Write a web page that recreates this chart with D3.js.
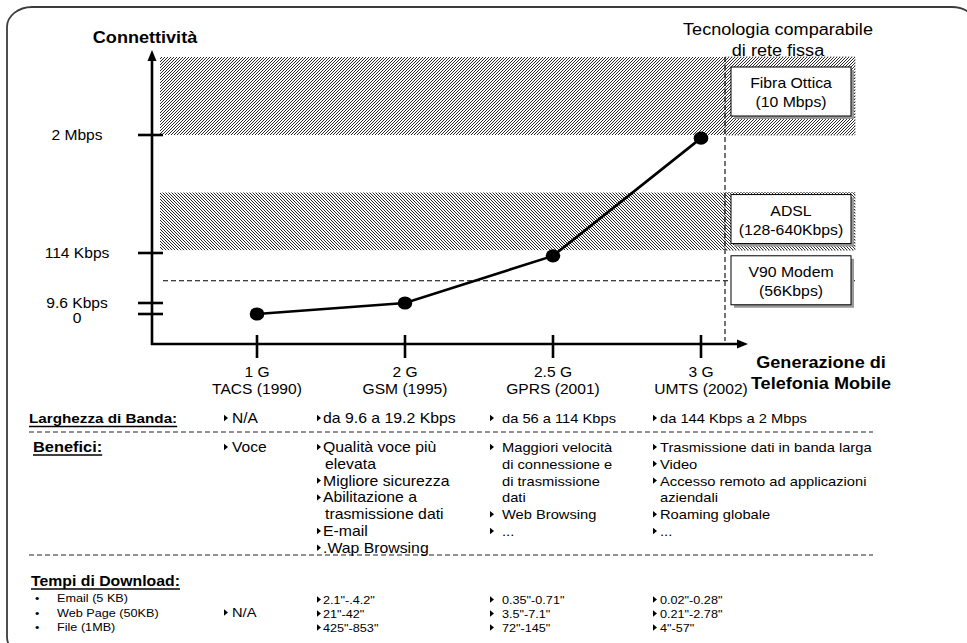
<!DOCTYPE html>
<html>
<head>
<meta charset="utf-8">
<script src="https://cdn.jsdelivr.net/npm/d3@7"></script>
<style>
  html, body { margin: 0; padding: 0; background: #fff; }
  svg { display: block; font-family: Arial, "Liberation Sans", sans-serif; }
</style>
</head>
<body>
<svg id="chart" width="967" height="643"></svg>
<script>
// ---------------- DATA ----------------
const generations = ["1 G", "2 G", "2.5 G", "3 G"];
const systems = ["TACS (1990)", "GSM (1995)", "GPRS (2001)", "UMTS (2002)"];
const speedKbps = [0, 9.6, 108, 1950];
const yTickValues = [0, 9.6, 114, 2000];
const yTickLabels = ["0", "9.6 Kbps", "114 Kbps", "2 Mbps"];
const fiberBand = [2000, 10000];                    // Kbps
const adslBand = [160, 1080];                       // Kbps (as drawn)
const modemKbps = 56;
const fixedNames = ["Fibra Ottica", "ADSL", "V90 Modem"];
const fixedDetails = ["(10 Mbps)", "(128-640Kbps)", "(56Kbps)"];
const rowTitles = ["Larghezza di Banda:", "Benefici:", "Tempi di Download:"];
const bandwidth = ["N/A", "da 9.6 a 19.2 Kbps", "da 56 a 114 Kbps", "da 144 Kbps a 2 Mbps"];
const benefits = [
  [["Voce"]],
  [["Qualità voce più", "elevata"], ["Migliore sicurezza"], ["Abilitazione a", "trasmissione dati"], ["E-mail"], [".Wap Browsing"]],
  [["Maggiori velocità", "di connessione e", "di trasmissione", "dati"], ["Web Browsing"], ["..."]],
  [["Trasmissione dati in banda larga"], ["Video"], ["Accesso remoto ad applicazioni", "aziendali"], ["Roaming globale"], ["..."]]
];
const downloadItems = ["Email (5 KB)", "Web Page (50KB)", "File (1MB)"];
const downloadTimes = [
  ["N/A"],
  ["2.1\"-.4.2\"", "21\"-42\"", "425\"-853\""],
  ["0.35\"-0.71\"", "3.5\"-7.1\"", "72\"-145\""],
  ["0.02\"-0.28\"", "0.21\"-2.78\"", "4\"-57\""]
];

// ---------------- LAYOUT ----------------
const SX = 1.13; // horizontal stretch of the original slide
const svg = d3.select("#chart");
const defs = svg.append("defs");

function txt(g, x, y, s, o = {}) {
  return g.append("text")
    .attr("transform", `translate(${x},${y}) scale(${SX},1)`)
    .attr("font-size", o.size || 14)
    .attr("font-weight", o.weight || "normal")
    .attr("text-anchor", o.anchor || "start")
    .attr("fill", o.fill || "#000")
    .text(s);
}
function underline(g, t, x, y) {
  const len = t.node().getComputedTextLength() * SX;
  g.append("line").attr("x1", x).attr("x2", x + len).attr("y1", y).attr("y2", y)
    .attr("stroke", "#000").attr("stroke-width", 1.4);
}
function bullet(g, x, cy) {
  g.append("path").attr("d", `M${x},${cy - 3.2}L${x + 4},${cy}L${x},${cy + 3.2}Z`).attr("fill", "#000");
}

// patterns (pixel-crisp diagonal hatching)
const pF = defs.append("pattern").attr("id", "hatchF").attr("patternUnits", "userSpaceOnUse")
  .attr("width", 3).attr("height", 3);
[[0, 2], [1, 1], [2, 0]].forEach(([px, py]) =>
  pF.append("rect").attr("x", px).attr("y", py).attr("width", 1).attr("height", 1).attr("fill", "#2a2a2a"));
const pB = defs.append("pattern").attr("id", "hatchB").attr("patternUnits", "userSpaceOnUse")
  .attr("width", 3).attr("height", 3);
[[0, 0], [1, 1], [2, 2]].forEach(([px, py]) =>
  pB.append("rect").attr("x", px).attr("y", py).attr("width", 1).attr("height", 1).attr("fill", "#2a2a2a"));

// frame
svg.append("rect").attr("x", 7).attr("y", 7).attr("width", 970).attr("height", 650)
  .attr("rx", 25).attr("ry", 20).attr("fill", "none").attr("stroke", "#3c3c3c").attr("stroke-width", 1.8);

// scales
const x = d3.scalePoint().domain(generations).range([257, 701]);
const y = d3.scaleLinear().domain([0, 9.6, 114, 2000, 10000]).range([314, 303, 253, 135, 57]);

const plotLeft = 160, bandRight = 855, splitX = 725;
const axisX = 152, axisY = 344;

const g = svg.append("g");

// bands
g.append("rect").attr("x", plotLeft).attr("y", y(fiberBand[1])).attr("width", bandRight - plotLeft)
  .attr("height", y(fiberBand[0]) - y(fiberBand[1])).attr("fill", "url(#hatchF)");
g.append("rect").attr("x", plotLeft).attr("y", y(adslBand[1])).attr("width", bandRight - plotLeft)
  .attr("height", y(adslBand[0]) - y(adslBand[1])).attr("fill", "url(#hatchB)");
// dotted outlines of right parts
[fiberBand, adslBand].forEach(b => {
  g.append("rect").attr("x", splitX).attr("y", y(b[1])).attr("width", bandRight - splitX)
    .attr("height", y(b[0]) - y(b[1])).attr("fill", "none").attr("stroke", "#555")
    .attr("stroke-width", 0.8).attr("stroke-dasharray", "1.5,1.5");
});

// dashed lines
g.append("line").attr("x1", 163).attr("x2", bandRight).attr("y1", y(modemKbps)).attr("y2", y(modemKbps))
  .attr("stroke", "#000").attr("stroke-width", 1.1).attr("stroke-dasharray", "5,3");
g.append("line").attr("x1", splitX).attr("x2", splitX).attr("y1", y(fiberBand[1])).attr("y2", axisY - 3)
  .attr("stroke", "#000").attr("stroke-width", 1.1).attr("stroke-dasharray", "5,3");

// boxes
const boxTop = [y(fiberBand[1]) + 10, y(adslBand[1]) + 2, y(modemKbps) - 25];
const boxW = 120, boxH = 49, boxX = 731;
fixedNames.forEach((n, i) => {
  g.append("rect").attr("x", boxX + 3).attr("y", boxTop[i] + 3).attr("width", boxW).attr("height", boxH).attr("fill", "#9a9a9a");
  g.append("rect").attr("x", boxX).attr("y", boxTop[i]).attr("width", boxW).attr("height", boxH)
    .attr("fill", "#fff").attr("stroke", "#000").attr("stroke-width", 1);
  txt(g, boxX + boxW / 2, boxTop[i] + 21, n, { size: 14, anchor: "middle" });
  txt(g, boxX + boxW / 2, boxTop[i] + 40, fixedDetails[i], { size: 14, anchor: "middle" });
});

// axes
g.append("line").attr("x1", axisX).attr("x2", axisX).attr("y1", axisY + 1).attr("y2", 58)
  .attr("stroke", "#000").attr("stroke-width", 2.6);
g.append("path").attr("d", `M${axisX},50L${axisX - 4.5},61L${axisX + 4.5},61Z`).attr("fill", "#000");
g.append("line").attr("x1", axisX - 1).attr("x2", 740).attr("y1", axisY).attr("y2", axisY)
  .attr("stroke", "#000").attr("stroke-width", 2.6);
g.append("path").attr("d", `M748,${axisY}L737,${axisY - 4.5}L737,${axisY + 4.5}Z`).attr("fill", "#000");

// y ticks
g.selectAll(".yt").data(yTickValues).join("line").attr("class", "yt")
  .attr("x1", 138).attr("x2", 163).attr("y1", d => y(d)).attr("y2", d => y(d))
  .attr("stroke", "#000").attr("stroke-width", 2.6);
yTickValues.forEach((v, i) => {
  txt(g, 77, y(v) + (v === 0 ? 9 : 5), yTickLabels[i], { size: 13.8, anchor: "middle" });
});

// x ticks
g.selectAll(".xt").data(generations).join("line").attr("class", "xt")
  .attr("x1", d => x(d)).attr("x2", d => x(d)).attr("y1", 335).attr("y2", 358)
  .attr("stroke", "#000").attr("stroke-width", 2.6);
generations.forEach((gname, i) => {
  txt(g, x(gname), 377, gname, { size: 13.8, anchor: "middle" });
  txt(g, x(gname), 394, systems[i], { size: 13.8, anchor: "middle" });
});

// line and dots
const line = d3.line().x((d, i) => x(generations[i])).y(d => y(d));
g.append("path").attr("d", line(speedKbps)).attr("fill", "none").attr("stroke", "#000").attr("stroke-width", 2.6);
g.selectAll(".dot").data(speedKbps).join("ellipse").attr("class", "dot")
  .attr("cx", (d, i) => x(generations[i])).attr("cy", d => y(d)).attr("rx", 7.3).attr("ry", 6.6).attr("fill", "#000");

// titles
txt(g, 145, 43, "Connettività", { size: 16, weight: "bold", anchor: "middle" });
txt(g, 821, 368, "Generazione di", { size: 16, weight: "bold", anchor: "middle" });
txt(g, 821, 389, "Telefonia Mobile", { size: 16, weight: "bold", anchor: "middle" });
txt(g, 778, 35, "Tecnologia comparabile", { size: 16, anchor: "middle" });
txt(g, 778, 56, "di rete fissa", { size: 16, anchor: "middle" });

// ---------------- TABLE ----------------
const t = svg.append("g");
const colBullet = [224, 317, 490, 653];
const colText = [232, 323, 502, 660];
const colSize = [13.8, 14, 13, 13];

// row 1
const t1 = txt(t, 29, 423, rowTitles[0], { size: 13.5, weight: "bold" });
underline(t, t1, 29, 426.5);
bandwidth.forEach((s, i) => {
  bullet(t, colBullet[i], 418);
  txt(t, colText[i], 423, s, { size: colSize[i] });
});
[432, 555].forEach(yy => t.append("line").attr("x1", 29).attr("x2", 873).attr("y1", yy).attr("y2", yy)
  .attr("stroke", "#222").attr("stroke-width", 1).attr("stroke-dasharray", "5,3"));

// row 2
const t2 = txt(t, 33, 452, rowTitles[1], { size: 14.5, weight: "bold" });
underline(t, t2, 33, 455);
const lh = 16.8;
benefits.forEach((items, i) => {
  let k = 0;
  items.forEach(lines => {
    lines.forEach((ln, j) => {
      const by = 452 + k * lh;
      if (j === 0) bullet(t, colBullet[i], by - 5);
      txt(t, colText[i] + (j > 0 && i === 1 ? 2 : 0), by, ln, { size: colSize[i] });
      k++;
    });
  });
});

// row 3
const t3 = txt(t, 31, 586, rowTitles[2], { size: 14, weight: "bold" });
underline(t, t3, 31, 589);
downloadItems.forEach((s, j) => {
  const by = 602 + j * 14.5;
  txt(t, 35, by, "•", { size: 11 });
  txt(t, 57, by, s, { size: 11.2 });
});
downloadTimes.forEach((arr, i) => {
  arr.forEach((s, j) => {
    const by = i === 0 ? 617 : 604 + j * 14;
    bullet(t, colBullet[i], by - 4.5);
    txt(t, colText[i], by, s, { size: i === 0 ? 13 : 11.2 });
  });
});
</script>
</body>
</html>
